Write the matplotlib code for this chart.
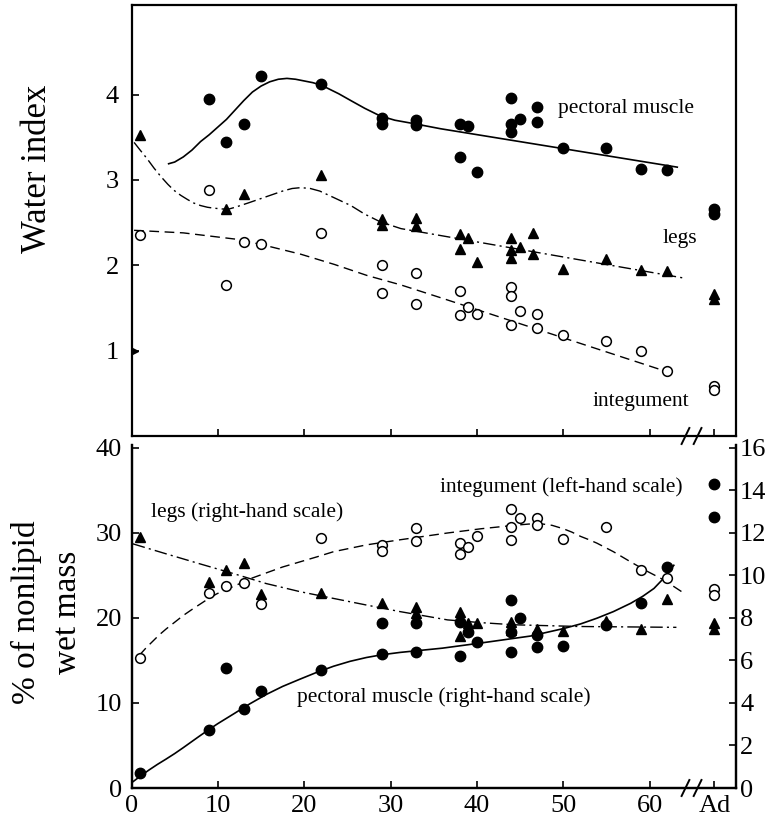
import matplotlib
matplotlib.use("Agg")
import matplotlib.pyplot as plt
from matplotlib.transforms import blended_transform_factory

plt.rcParams['font.family'] = ['Liberation Serif', 'DejaVu Serif']

AD = 67.5  # position of the adult column after the axis break

# ---------------- top panel: water index ----------------
pm_top_x = [9, 11, 13, 15, 22, 29, 29, 33, 33, 38, 39, 38, 40, 44, 44, 44, 45, 47, 47, 50, 55, 59, 62]
pm_top_y = [3.95, 3.45, 3.65, 4.22, 4.13, 3.73, 3.66, 3.70, 3.64, 3.66, 3.63, 3.27, 3.09,
            3.96, 3.65, 3.56, 3.71, 3.85, 3.68, 3.37, 3.38, 3.13, 3.12]
pm_top_ad = [2.66, 2.60]

legs_top_x = [1, 11, 13, 22, 29, 29, 33, 33, 38, 38, 39, 40, 44, 44, 44, 45, 46.5, 46.5, 50, 55, 59, 62]
legs_top_y = [3.53, 2.66, 2.83, 3.06, 2.54, 2.47, 2.56, 2.46, 2.37, 2.19, 2.32, 2.04,
              2.32, 2.18, 2.09, 2.21, 2.38, 2.13, 1.96, 2.07, 1.95, 1.93]
legs_top_ad = [1.66, 1.60]
legs_edge_x = [0.4]
legs_edge_y = [1.0]

integ_top_x = [1, 9, 11, 13, 15, 22, 29, 29, 33, 33, 38, 38, 39, 40, 44, 44, 44, 45, 47, 47, 50, 55, 59, 62]
integ_top_y = [2.35, 2.88, 1.77, 2.27, 2.25, 2.38, 2.00, 1.68, 1.91, 1.55, 1.70, 1.42, 1.51, 1.43,
               1.74, 1.64, 1.30, 1.47, 1.43, 1.27, 1.18, 1.11, 1.00, 0.76]
integ_top_ad = [0.58, 0.54]

# fitted curves
pm_top_fit_x = [4.3, 5.0, 6.0, 7.0, 8.0, 9.0, 10.0, 11.0, 12.0, 13.0, 14.0, 15.0, 16.0, 17.0,
                18.0, 19.0, 20.0, 21.0, 22.0, 23.0, 24.0, 25.4, 27.0, 28.8, 30.5, 32.7, 35.8, 63.2]
pm_top_fit_y = [3.19, 3.21, 3.27, 3.35, 3.45, 3.53, 3.62, 3.71, 3.82, 3.93, 4.03, 4.10, 4.15, 4.18,
                4.19, 4.18, 4.16, 4.14, 4.11, 4.06, 4.01, 3.93, 3.84, 3.75, 3.70, 3.66, 3.60, 3.15]
legs_top_fit_x = [0.3, 1.0, 1.8, 2.6, 3.4, 4.2, 4.9, 5.7, 6.5, 7.2, 8.0, 8.8, 9.5, 10.5, 11.3,
                  12.0, 13.5, 15.5, 17.5, 18.6, 19.6, 20.7, 21.8, 23.5, 25.4, 27.0, 28.8, 31.2, 64.0]
legs_top_fit_y = [3.44, 3.35, 3.25, 3.14, 3.04, 2.95, 2.88, 2.82, 2.77, 2.73, 2.70, 2.68, 2.67, 2.66, 2.66,
                  2.68, 2.73, 2.80, 2.87, 2.90, 2.91, 2.90, 2.87, 2.79, 2.70, 2.60, 2.51, 2.43, 1.85]
integ_top_fit_x = [0.3, 6.0, 12.6, 16.0, 19.6, 23.5, 27.3, 31.2, 35.8, 61.5]
integ_top_fit_y = [2.41, 2.38, 2.30, 2.22, 2.13, 2.01, 1.88, 1.77, 1.62, 0.77]

# ---------------- bottom panel: % of nonlipid wet mass ----------------
# pectoral muscle and legs on right-hand scale, integument on left-hand scale
pm_bot_x = [1, 9, 11, 13, 15, 22, 29, 29, 33, 33, 38, 38, 39, 40, 44, 44, 44, 45, 47, 47, 50, 55, 59, 62]
pm_bot_y = [0.69, 2.73, 5.63, 3.70, 4.58, 5.55, 6.31, 7.78, 7.78, 6.39, 7.83, 6.23, 7.36, 6.86,
            8.85, 7.36, 6.39, 8.01, 7.20, 6.65, 6.70, 7.67, 8.69, 10.41]
pm_bot_ad = [14.29, 12.74]

legs_bot_x = [1, 9, 11, 13, 15, 22, 29, 33, 33, 38, 38, 39, 39, 40, 44, 44, 47, 50, 55, 59, 62]
legs_bot_y = [11.80, 9.71, 10.26, 10.60, 9.12, 9.19, 8.72, 8.53, 8.25, 8.30, 7.15, 7.78, 7.47, 7.75,
              7.83, 7.44, 7.48, 7.40, 7.86, 7.47, 8.88]
legs_bot_ad = [7.75, 7.47]

integ_bot_x = [1, 9, 11, 13, 15, 22, 29, 29, 33, 33, 38, 38, 39, 40, 44, 44, 44, 45, 47, 47, 50, 55, 59, 62]
integ_bot_y = [15.3, 22.9, 23.8, 24.1, 21.7, 29.4, 28.6, 27.9, 30.6, 29.0, 28.8, 27.5, 28.3, 29.7,
               32.8, 30.7, 29.2, 31.8, 31.8, 30.9, 29.3, 30.7, 25.6, 24.7]
integ_bot_ad = [23.4, 22.7]

pm_bot_fit_x = [0.15, 1.0, 2.0, 3.0, 4.0, 5.0, 6.0, 7.0, 7.9, 9.0, 10.0, 11.0, 11.8, 13.7, 15.6,
                17.5, 19.5, 21.5, 23.4, 25.3, 27.2, 29.0, 31.1, 36.0, 40.4, 46.2, 50.0, 52.0,
                53.9, 55.8, 57.8, 59.2, 60.5, 61.7, 62.8]
pm_bot_fit_y = [0.29, 0.55, 0.84, 1.11, 1.36, 1.62, 1.90, 2.19, 2.45, 2.76, 3.03, 3.28, 3.48, 3.96, 4.40,
                4.78, 5.12, 5.45, 5.73, 5.96, 6.14, 6.27, 6.38, 6.58, 6.82, 7.15, 7.50, 7.72,
                7.99, 8.30, 8.69, 9.02, 9.39, 9.90, 10.48]
legs_bot_fit_x = [0.15, 4.0, 7.9, 11.8, 15.6, 19.5, 23.4, 27.2, 31.1, 36.6, 40.5, 44.3, 51.8, 63.1]
legs_bot_fit_y = [11.49, 11.02, 10.55, 10.09, 9.62, 9.24, 8.92, 8.61, 8.30, 7.91, 7.78, 7.68, 7.60, 7.56]
integ_bot_fit_x = [0.9, 1.7, 2.5, 3.2, 4.0, 5.0, 6.0, 7.0, 7.9, 8.8, 9.8, 10.8, 11.8, 13.7, 15.6, 17.5,
                   19.5, 21.5, 23.4, 25.3, 27.2, 31.1, 36.6, 40.5, 44.3, 46.0, 47.3, 48.7, 50.0, 51.0,
                   52.0, 53.0, 53.9, 55.8, 57.8, 59.7, 61.6, 64.0]
integ_bot_fit_y = [15.6, 16.5, 17.3, 18.0, 18.7, 19.5, 20.3, 21.0, 21.6, 22.2, 22.8, 23.3, 23.7, 24.6,
                   25.3, 26.0, 26.6, 27.2, 27.8, 28.2, 28.6, 29.2, 30.0, 30.5, 30.9, 31.05, 31.1,
                   30.9, 30.5, 30.1, 29.6, 29.2, 28.8, 27.8, 26.6, 25.5, 24.5, 22.9]

x_ticks = [10, 20, 30, 40, 50, 60, AD]
x_ticklabels = ['10', '20', '30', '40', '50', '60', 'Ad']

filled = dict(ls='none', marker='o', color='black', ms=7.5, zorder=4, clip_on=False)
opened = dict(ls='none', marker='o', mfc='white', mec='black', mew=1.1, ms=7, zorder=5, clip_on=False)
tri = dict(ls='none', marker='^', color='black', ms=6.5, zorder=4, clip_on=False)

fig = plt.figure(figsize=(7.72, 8.21), dpi=100)
ax1 = fig.add_axes([131.5 / 772, 1 - 436 / 821, 604.5 / 772, 431 / 821])
ax2 = fig.add_axes([131.5 / 772, 1 - 788 / 821, 604.5 / 772, 343 / 821])
ax3 = ax2.twinx()

# --- top panel
ax1.plot(pm_top_fit_x, pm_top_fit_y, color='black', lw=1.2)
ax1.plot(legs_top_fit_x, legs_top_fit_y, color='black', lw=1.0, dashes=[9, 3, 1.5, 3])
ax1.plot(integ_top_fit_x, integ_top_fit_y, color='black', lw=1.0, dashes=[7, 4])
ax1.plot(pm_top_x, pm_top_y, **filled)
ax1.plot(legs_top_x, legs_top_y, **tri)
ax1.plot(legs_edge_x, legs_edge_y, ls='none', marker='>', color='black', ms=5, clip_on=False)
ax1.plot(integ_top_x, integ_top_y, **opened)
ax1.plot([AD] * len(pm_top_ad), pm_top_ad, **filled)
ax1.plot([AD] * len(legs_top_ad), legs_top_ad, **tri)
ax1.plot([AD] * len(integ_top_ad), integ_top_ad, **opened)

ax1.set_xlim(0, 70)
ax1.set_ylim(0, 5.05)
ax1.set_xticks(x_ticks)
ax1.set_xticklabels([])
ax1.set_yticks([1, 2, 3, 4])
ax1.tick_params(direction='in', length=5, width=1.2, labelsize=19, pad=9)
for s in ax1.spines.values():
    s.set_linewidth(1.6)

ax1.text(49.4, 3.84, 'pectoral muscle', fontsize=15.5, va='center')
ax1.text(61.5, 2.31, 'legs', fontsize=15.5, va='center')
ax1.text(53.4, 0.41, 'integument', fontsize=15.5, va='center')

# --- bottom panel
ax2.plot(integ_bot_fit_x, integ_bot_fit_y, color='black', lw=1.0, dashes=[7, 4])
ax2.plot(integ_bot_x, integ_bot_y, **opened)
ax2.plot([AD] * len(integ_bot_ad), integ_bot_ad, **opened)

ax3.plot(pm_bot_fit_x, pm_bot_fit_y, color='black', lw=1.2)
ax3.plot(legs_bot_fit_x, legs_bot_fit_y, color='black', lw=1.0, dashes=[9, 3, 1.5, 3])
ax3.plot(pm_bot_x, pm_bot_y, **filled)
ax3.plot(legs_bot_x, legs_bot_y, **tri)
ax3.plot([AD] * len(pm_bot_ad), pm_bot_ad, **filled)
ax3.plot([AD] * len(legs_bot_ad), legs_bot_ad, **tri)

ax2.set_zorder(ax3.get_zorder() + 1)
ax2.patch.set_visible(False)

ax2.set_xlim(0, 70)
ax2.set_ylim(0, 40.35)
ax3.set_ylim(0, 40.35 * 0.4)
ax2.set_xticks([0] + x_ticks)
ax2.set_xticklabels(['0'] + x_ticklabels)
ax2.set_yticks([0, 10, 20, 30, 40])
ax3.set_yticks([0, 2, 4, 6, 8, 10, 12, 14, 16])
ax2.tick_params(axis='x', direction='in', length=5, width=1.2, labelsize=19, pad=5)
ax2.tick_params(axis='y', direction='in', length=5, width=1.2, labelsize=19, pad=7)
ax3.tick_params(axis='y', direction='in', length=5, width=1.2, labelsize=19, pad=3)
for a in (ax2, ax3):
    a.spines['top'].set_visible(False)
    for s in a.spines.values():
        s.set_linewidth(1.6)

ax2.text(2.3, 32.5, 'legs (right-hand scale)', fontsize=15.5, va='center')
ax2.text(35.7, 35.45, 'integument (left-hand scale)', fontsize=15.5, va='center')
ax2.text(19.2, 10.74, 'pectoral muscle (right-hand scale)', fontsize=15.5, va='center')

# axis break marks "//"
for a, h in ((ax1, 8 / 431), (ax2, 8 / 343)):
    tr = blended_transform_factory(a.transData, a.transAxes)
    for x0 in (63.7, 65.1):
        a.plot([x0, x0 + 0.9], [-h, h], color='black', lw=1.4, transform=tr, clip_on=False, zorder=6)

fig.text(37 / 772, 1 - 169 / 821, 'Water index', rotation=90, ha='center', va='center', fontsize=25)
fig.text(47 / 772, 1 - 612 / 821, '% of nonlipid\nwet mass', rotation=90, ha='center', va='center',
         fontsize=24, multialignment='center', linespacing=1.45)

fig.savefig('out.png', dpi=100)
